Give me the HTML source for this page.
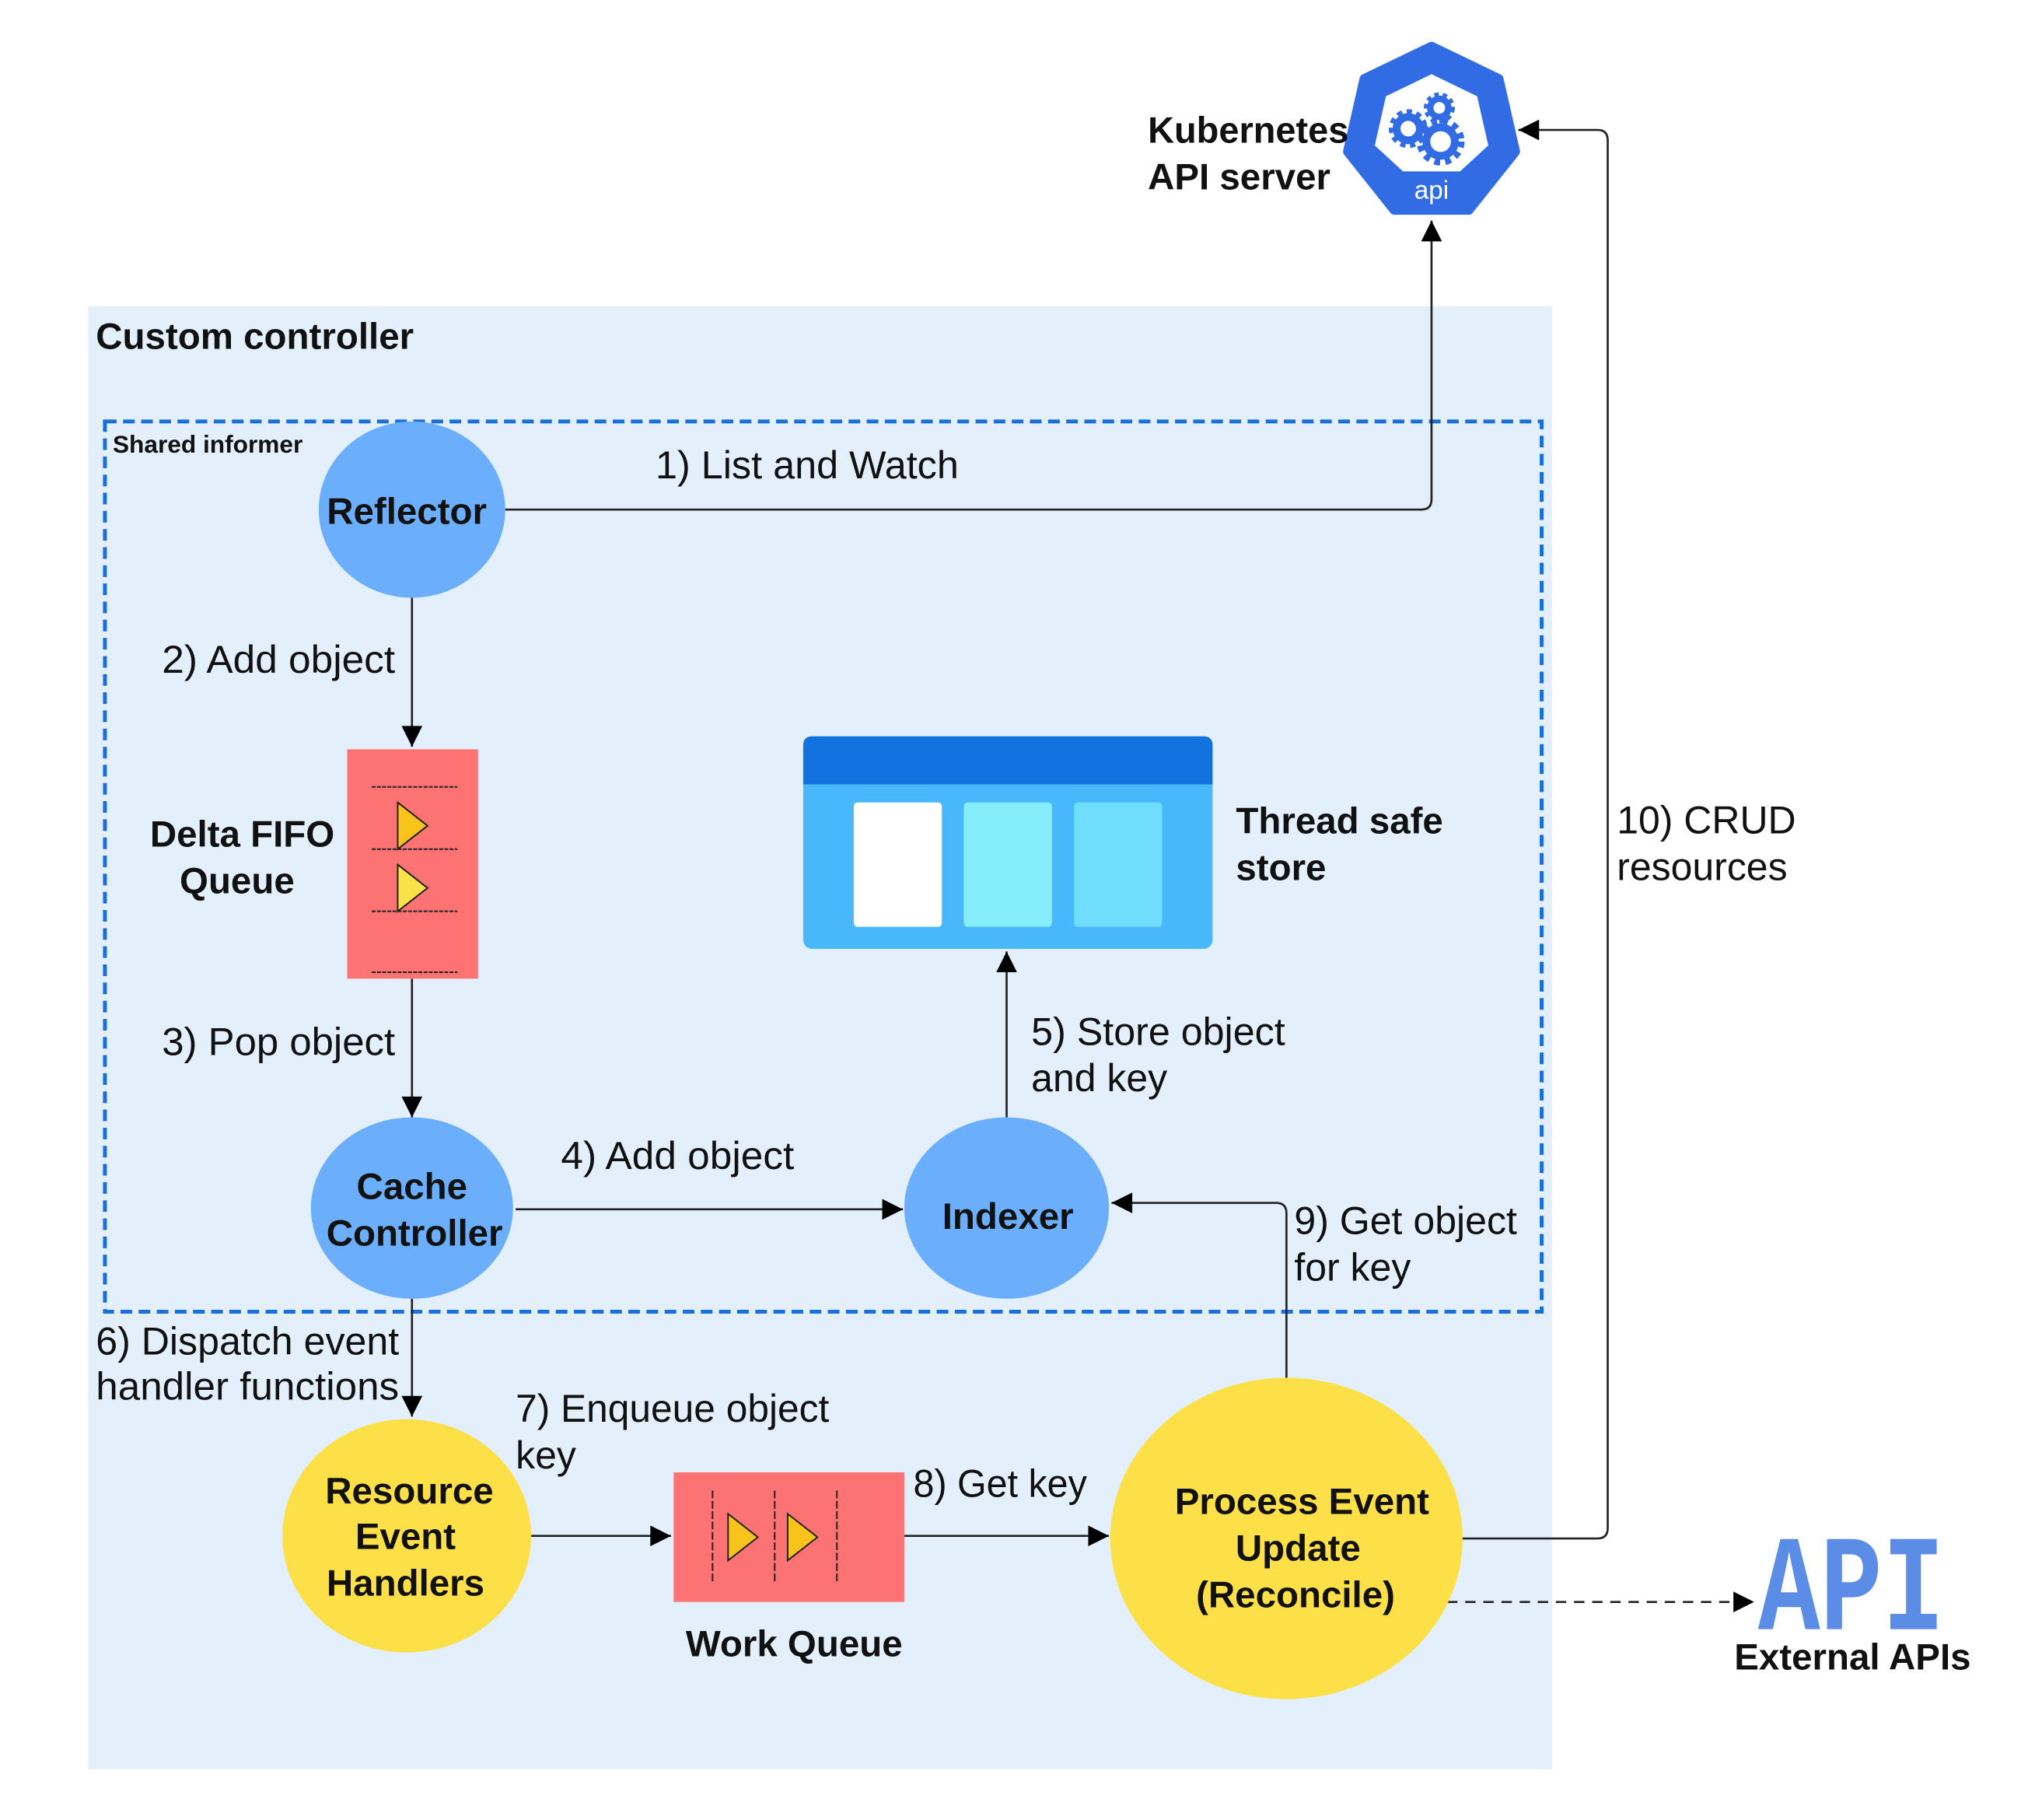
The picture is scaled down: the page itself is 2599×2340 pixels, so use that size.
<!DOCTYPE html>
<html><head><meta charset="utf-8"><style>
html,body{margin:0;padding:0;background:#fff;}
svg{display:block;}
text{font-family:"Liberation Sans",Arial,sans-serif;fill:#111;}
.b{font-weight:bold;}
</style></head><body>
<svg width="2599" height="2340" viewBox="0 0 1560 1404" xmlns="http://www.w3.org/2000/svg">
<defs>
<marker id="ar2" viewBox="0 0 10 10" refX="10" refY="5" markerWidth="18" markerHeight="16" orient="auto" markerUnits="userSpaceOnUse">
<path d="M0,0 L10,5 L0,10 z" fill="#000"/></marker>
</defs>
<rect x="68" y="236" width="1130" height="1129" fill="#e3f0fb"/>
<text x="74" y="269" font-size="28.5" class="b">Custom controller</text>
<rect x="81" y="325" width="1109" height="687" fill="none" stroke="#1a6fd8" stroke-width="3" stroke-dasharray="9,5"/>
<text x="87" y="349" font-size="19" class="b">Shared informer</text>

<!-- K8s -->
<g transform="translate(1105,102)">
<polygon points="0,-66 51.6,-41.2 64.3,14.7 28.6,59.5 -28.6,59.5 -64.3,14.7 -51.6,-41.2" fill="#326ce5" stroke="#326ce5" stroke-width="8" stroke-linejoin="round"/>
<polygon points="0,-45 35.2,-28 43.8,10 22,30 -22,30 -43.8,10 -35.2,-28" fill="#fff"/>
<circle cx="-18" cy="-3" r="9" fill="none" stroke="#326ce5" stroke-width="6"/>
<circle cx="-18" cy="-3" r="13" fill="none" stroke="#326ce5" stroke-width="4" stroke-dasharray="4,3.5"/>
<circle cx="6" cy="-19" r="7" fill="none" stroke="#326ce5" stroke-width="5"/>
<circle cx="6" cy="-19" r="10.5" fill="none" stroke="#326ce5" stroke-width="3" stroke-dasharray="3.5,3"/>
<circle cx="7" cy="7" r="11" fill="none" stroke="#326ce5" stroke-width="6"/>
<circle cx="7" cy="7" r="16" fill="none" stroke="#326ce5" stroke-width="5" stroke-dasharray="4.5,4"/>
<text x="0" y="51" font-size="20" text-anchor="middle" style="fill:#fff">api</text>
</g>
<text x="886" y="110" font-size="28.5" class="b" textLength="155" lengthAdjust="spacingAndGlyphs">Kubernetes</text>
<text x="886" y="146" font-size="28.5" class="b">API server</text>

<!-- connectors -->
<g fill="none" stroke="#222" stroke-width="1.6">
<path d="M390,393 H1097 Q1105,393 1105,385 V170" marker-end="url(#ar2)"/>
<path d="M318,461 V576" marker-end="url(#ar2)"/>
<path d="M318,755 V862" marker-end="url(#ar2)"/>
<path d="M398,933 H697" marker-end="url(#ar2)"/>
<path d="M777,862 V734" marker-end="url(#ar2)"/>
<path d="M993,1065 V936 Q993,928 985,928 H858" marker-end="url(#ar2)"/>
<path d="M318,1002 V1093" marker-end="url(#ar2)"/>
<path d="M410,1185 H518" marker-end="url(#ar2)"/>
<path d="M698,1185 H856" marker-end="url(#ar2)"/>
<path d="M1128,1187 H1233 Q1241,1187 1241,1179 V108 Q1241,100 1233,100 H1172" marker-end="url(#ar2)"/>
<path d="M1117,1236 H1354" stroke-dasharray="8,6" marker-end="url(#ar2)"/>
</g>

<!-- Reflector -->
<ellipse cx="318" cy="393" rx="72" ry="68" fill="#6aaefc"/>
<text x="314" y="404" font-size="28.5" class="b" text-anchor="middle">Reflector</text>
<text x="506" y="369" font-size="30" textLength="234" lengthAdjust="spacingAndGlyphs">1) List and Watch</text>
<text x="125" y="519" font-size="30" textLength="180" lengthAdjust="spacingAndGlyphs">2) Add object</text>

<!-- Delta FIFO -->
<rect x="268" y="578" width="101" height="177" fill="#fd7272"/>
<g stroke="#222" stroke-width="1.2" stroke-dasharray="3,1">
<line x1="287" y1="607" x2="353" y2="607"/><line x1="287" y1="655" x2="353" y2="655"/>
<line x1="287" y1="703" x2="353" y2="703"/><line x1="287" y1="750" x2="353" y2="750"/>
</g>
<polygon points="307,619 330,637 307,655" fill="#f8c41b" stroke="#222" stroke-width="1.2"/>
<polygon points="307,667 330,685 307,703" fill="#fbe14a" stroke="#222" stroke-width="1.2"/>
<text x="187" y="653" font-size="28.5" class="b" text-anchor="middle">Delta FIFO</text>
<text x="183" y="689" font-size="28.5" class="b" text-anchor="middle">Queue</text>
<text x="125" y="814" font-size="30" textLength="180" lengthAdjust="spacingAndGlyphs">3) Pop object</text>

<!-- Thread safe store -->
<rect x="620" y="568" width="316" height="164" rx="7" fill="#48b8fa"/>
<path d="M627,568 H929 Q936,568 936,575 V605 H620 V575 Q620,568 627,568 z" fill="#1172e0"/>
<rect x="659" y="619" width="68" height="96" rx="3" fill="#fff"/>
<rect x="744" y="619" width="68" height="96" rx="3" fill="#86eefb"/>
<rect x="829" y="619" width="68" height="96" rx="3" fill="#6fddfc"/>
<text x="954" y="643" font-size="28.5" class="b">Thread safe</text>
<text x="954" y="679" font-size="28.5" class="b">store</text>
<text x="1248" y="643" font-size="30">10) CRUD</text>
<text x="1248" y="679" font-size="30">resources</text>

<!-- Cache controller / Indexer -->
<ellipse cx="318" cy="932" rx="78" ry="70" fill="#6aaefc"/>
<text x="318" y="925" font-size="28.5" class="b" text-anchor="middle">Cache</text>
<text x="320" y="961" font-size="28.5" class="b" text-anchor="middle">Controller</text>
<text x="433" y="902" font-size="30" textLength="180" lengthAdjust="spacingAndGlyphs">4) Add object</text>
<ellipse cx="777" cy="932" rx="79" ry="70" fill="#6aaefc"/>
<text x="778" y="948" font-size="28.5" class="b" text-anchor="middle">Indexer</text>
<text x="796" y="806" font-size="30" textLength="196" lengthAdjust="spacingAndGlyphs">5) Store object</text>
<text x="796" y="842" font-size="30">and key</text>
<text x="999" y="952" font-size="30" textLength="172" lengthAdjust="spacingAndGlyphs">9) Get object</text>
<text x="999" y="988" font-size="30">for key</text>

<text x="74" y="1045" font-size="30" textLength="234" lengthAdjust="spacingAndGlyphs">6) Dispatch event</text>
<text x="74" y="1080" font-size="30" textLength="234" lengthAdjust="spacingAndGlyphs">handler functions</text>

<!-- Resource event handlers -->
<ellipse cx="314" cy="1185" rx="96" ry="90" fill="#fde047"/>
<text x="316" y="1160" font-size="28.5" class="b" text-anchor="middle">Resource</text>
<text x="313" y="1195" font-size="28.5" class="b" text-anchor="middle">Event</text>
<text x="313" y="1231" font-size="28.5" class="b" text-anchor="middle">Handlers</text>
<text x="398" y="1097" font-size="30" textLength="242" lengthAdjust="spacingAndGlyphs">7) Enqueue object</text>
<text x="398" y="1133" font-size="30">key</text>

<!-- Work queue -->
<rect x="520" y="1136" width="178" height="100" fill="#fd7272"/>
<g stroke="#222" stroke-width="1.2" stroke-dasharray="6,2">
<line x1="550" y1="1150" x2="550" y2="1222"/><line x1="598" y1="1150" x2="598" y2="1222"/><line x1="646" y1="1150" x2="646" y2="1222"/>
</g>
<polygon points="562,1168 585,1186 562,1204" fill="#f8c41b" stroke="#222" stroke-width="1.2"/>
<polygon points="608,1168 631,1186 608,1204" fill="#f8c41b" stroke="#222" stroke-width="1.2"/>
<text x="613" y="1278" font-size="28.5" class="b" text-anchor="middle">Work Queue</text>
<text x="705" y="1155" font-size="30" textLength="134" lengthAdjust="spacingAndGlyphs">8) Get key</text>

<!-- Process -->
<ellipse cx="993" cy="1187" rx="136" ry="124" fill="#fde047"/>
<text x="1005" y="1168" font-size="28.5" class="b" text-anchor="middle">Process Event</text>
<text x="1002" y="1204" font-size="28.5" class="b" text-anchor="middle">Update</text>
<text x="1000" y="1240" font-size="28.5" class="b" text-anchor="middle">(Reconcile)</text>

<!-- External API -->
<text x="0" y="0" font-size="96" class="b" text-anchor="middle" transform="translate(1429,1257) scale(1,1.1)" style="fill:#5b8de6;font-family:'Liberation Mono',monospace" textLength="144" lengthAdjust="spacingAndGlyphs">API</text>
<text x="1430" y="1288" font-size="28.5" class="b" text-anchor="middle">External APIs</text>
</svg>
</body></html>
